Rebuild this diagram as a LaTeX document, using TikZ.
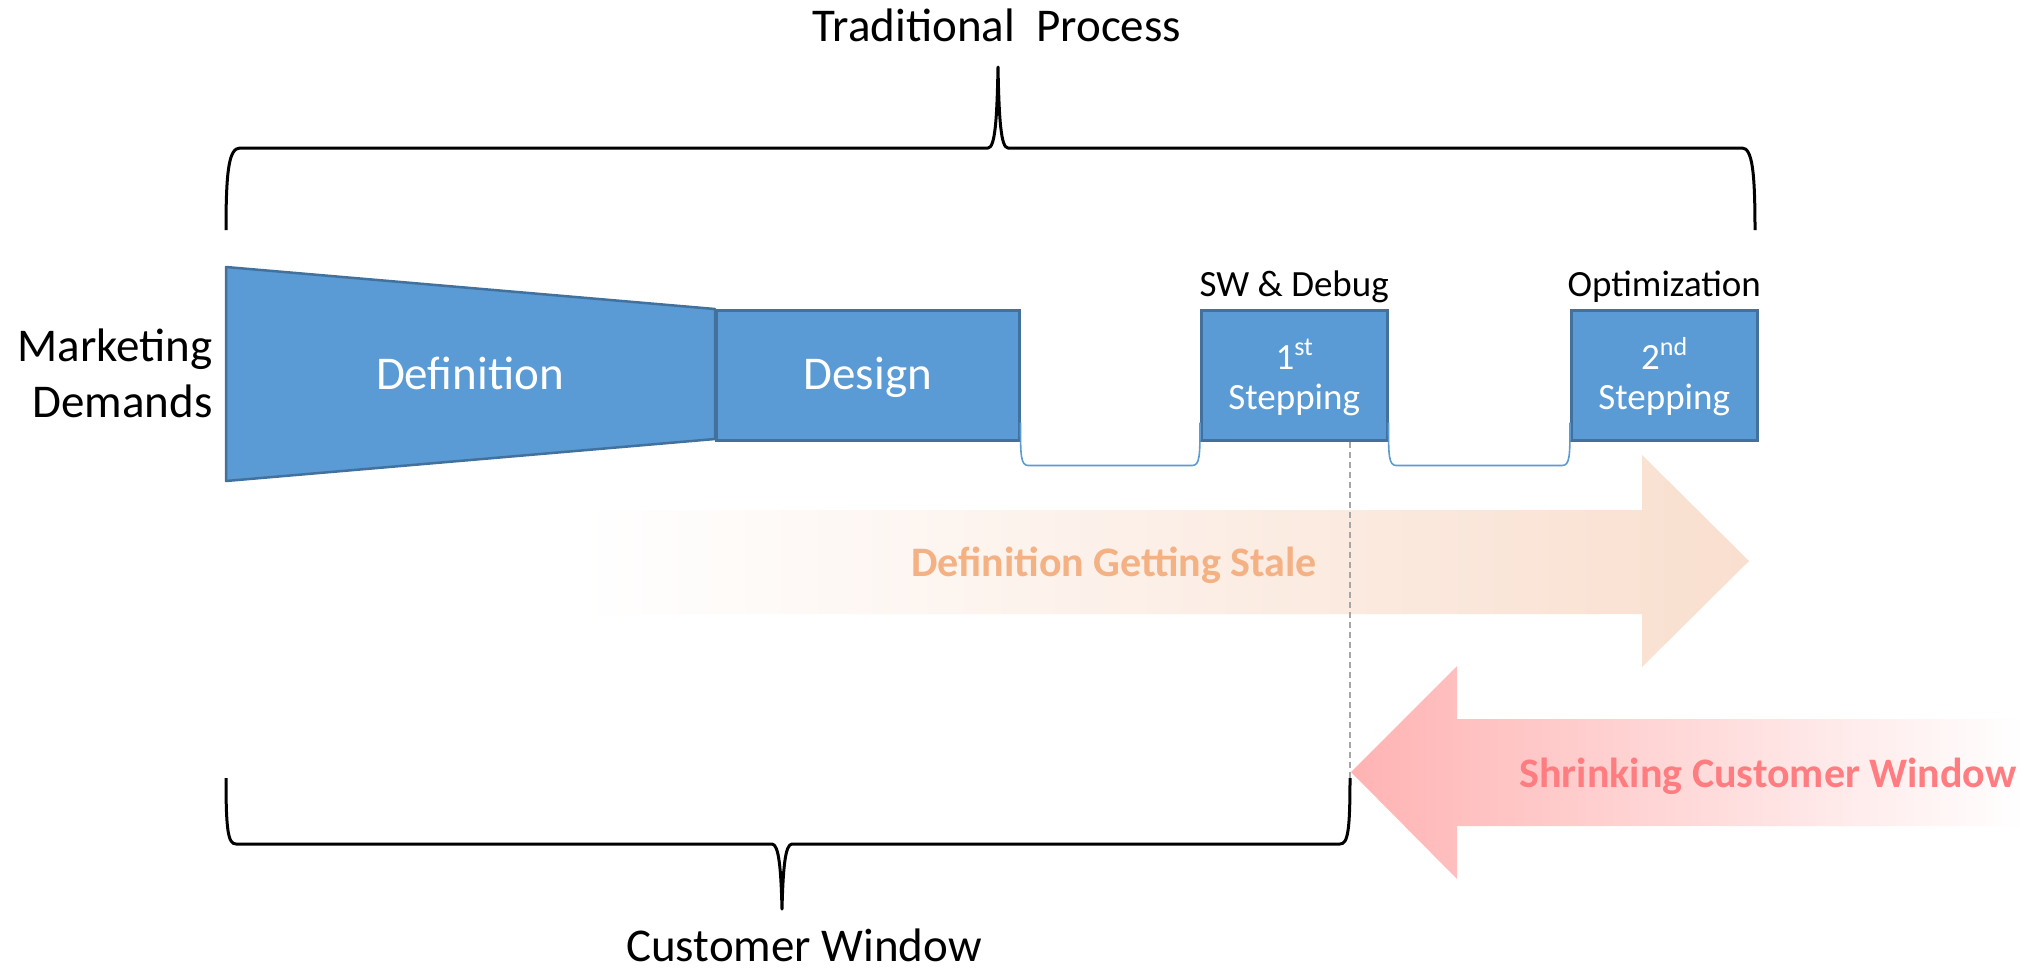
\documentclass[tikz,border=0pt]{standalone}
\usepackage{fontspec}
\setmainfont{Carlito}
\usetikzlibrary{calc}
\definecolor{boxfill}{HTML}{5B9BD5}
\definecolor{boxline}{HTML}{41719C}
\definecolor{connc}{HTML}{5B9BD5}
\definecolor{dashc}{HTML}{A6A6A6}
\definecolor{staletext}{HTML}{F4B183}
\definecolor{stalehead}{HTML}{F9DFCF}
\definecolor{shrinktext}{HTML}{FF7C80}
\definecolor{shrinkhead}{HTML}{FFB3B3}
\newcommand{\fsL}{\fontsize{47}{56}\selectfont}
\newcommand{\fsM}{\fontsize{37}{44}\selectfont}
\newcommand{\fsB}{\fontsize{42}{50}\selectfont\bfseries}
\newcommand{\supx}[1]{\raisebox{0.36em}{\fontsize{26}{26}\selectfont #1}}
\begin{document}
\begin{tikzpicture}[x=1pt,y=-1pt,
  boxst/.style={draw=boxline, fill=boxfill, line width=2.5pt, inner sep=0pt, anchor=north west},
  boxtext/.style={text=white, anchor=base},
  blacktext/.style={text=black, anchor=base},
  conn/.style={draw=connc, line width=1.6pt},
  dashline/.style={draw=dashc, line width=1.5pt, dash pattern=on 6pt off 4pt},
  brace/.style={draw=black, line width=3pt, line join=round}]
\useasboundingbox (0,0) rectangle (2024,970);
\fill[white] (0,0) rectangle (2024,970);

% ---- gradient arrows ----
\shade[left color=white, right color=stalehead]
  (580,510) -- (1642,510) -- (1642,455) -- (1749,561) -- (1642,667) -- (1642,614) -- (580,614) -- cycle;
\shade[left color=shrinkhead, right color=white]
  (1351,772) -- (1457,666) -- (1457,719) -- (2024,719) -- (2024,826) -- (1457,826) -- (1457,879) -- cycle;

% ---- boxes ----
\draw[boxst, line join=round] (226,267) coordinate (defTL) -- (715,309) -- (715,439) -- (226,481) -- cycle;
\node[boxst, minimum width=303pt, minimum height=130pt] (design) at (715,309) {};
\node[boxst, minimum width=186pt, minimum height=130pt] (s1) at (1200,309) {};
\node[boxst, minimum width=186pt, minimum height=130pt] (s2) at (1570,309) {};

% ---- texts in boxes ----
\node[boxtext, font=\fsL] (deftext) at (470,389) {Definition};
\node[boxtext, font=\fsL] (destext) at (design.center |- 0,389) {Design};
\node[boxtext, font=\fsM] (s1a) at ($(s1.north)+(0,60)$) {1\supx{st}};
\node[boxtext, font=\fsM] (s1b) at ($(s1.north)+(0,100)$) {Stepping};
\node[boxtext, font=\fsM] (s2a) at ($(s2.north)+(0,60)$) {2\supx{nd}};
\node[boxtext, font=\fsM] (s2b) at ($(s2.north)+(0,100)$) {Stepping};

% ---- labels ----
\node[blacktext, font=\fsM] (swdbg) at ($(s1.north)+(0,-13)$) {SW \& Debug};
\node[blacktext, font=\fsM] (optim) at ($(s2.north)+(0,-13)$) {Optimization};
\node[blacktext, font=\fsL, anchor=base east] (mkt) at (216,361) {Marketing};
\node[blacktext, font=\fsL, anchor=base east] (dem) at (216,417) {Demands};
\node[blacktext, font=\fsL] (trad) at (997,41) {Traditional\ \ Process};
\node[blacktext, font=\fsL] (cwin) at (804,961) {Customer Window};

% ---- arrow texts ----
\node[font=\fsB, text=staletext, anchor=base] (stale) at (1114,576) {Definition Getting Stale};
\node[font=\fsB, text=shrinktext, anchor=base] (shrink) at (1768,787) {Shrinking Customer Window};

% ---- thin connectors between boxes ----
\draw[conn] ($(design.south east)+(0,-19)$)
  .. controls ($(design.south east)+(0,14)$) and ($(design.south east)+(0,24)$) .. ($(design.south east)+(8,24)$)
  -- ($(s1.south west)+(-8,24)$)
  .. controls ($(s1.south west)+(0,24)$) and ($(s1.south west)+(0,14)$) .. ($(s1.south west)+(0,-19)$);
\draw[conn] ($(s1.south east)+(0,-19)$)
  .. controls ($(s1.south east)+(0,14)$) and ($(s1.south east)+(0,24)$) .. ($(s1.south east)+(8,24)$)
  -- ($(s2.south west)+(-8,24)$)
  .. controls ($(s2.south west)+(0,24)$) and ($(s2.south west)+(0,14)$) .. ($(s2.south west)+(0,-19)$);

% ---- braces ----
\coordinate (cwR) at (1350,778);
\draw[brace] (226,230) .. controls (226,170) and (229,148) .. (240,148) -- (988,148)
  .. controls (995,148) and (997,120) .. (998,67)
  .. controls (999,120) and (1001,148) .. (1008,148) -- (1742,148)
  .. controls (1752,148) and (1755,170) .. (1755,230);
\draw[brace] (226,778) .. controls (226,830) and (228,844) .. (236,844) -- (772,844)
  .. controls (779,844) and (781,870) .. (782,909)
  .. controls (783,870) and (785,844) .. (792,844) -- (1340,844)
  .. controls (1348,844) and (1350,830) .. (cwR);

% ---- dashed guide ----
\draw[dashline] ($(s1.south west)+(150,0)$) -- (cwR);
\end{tikzpicture}
\end{document}
